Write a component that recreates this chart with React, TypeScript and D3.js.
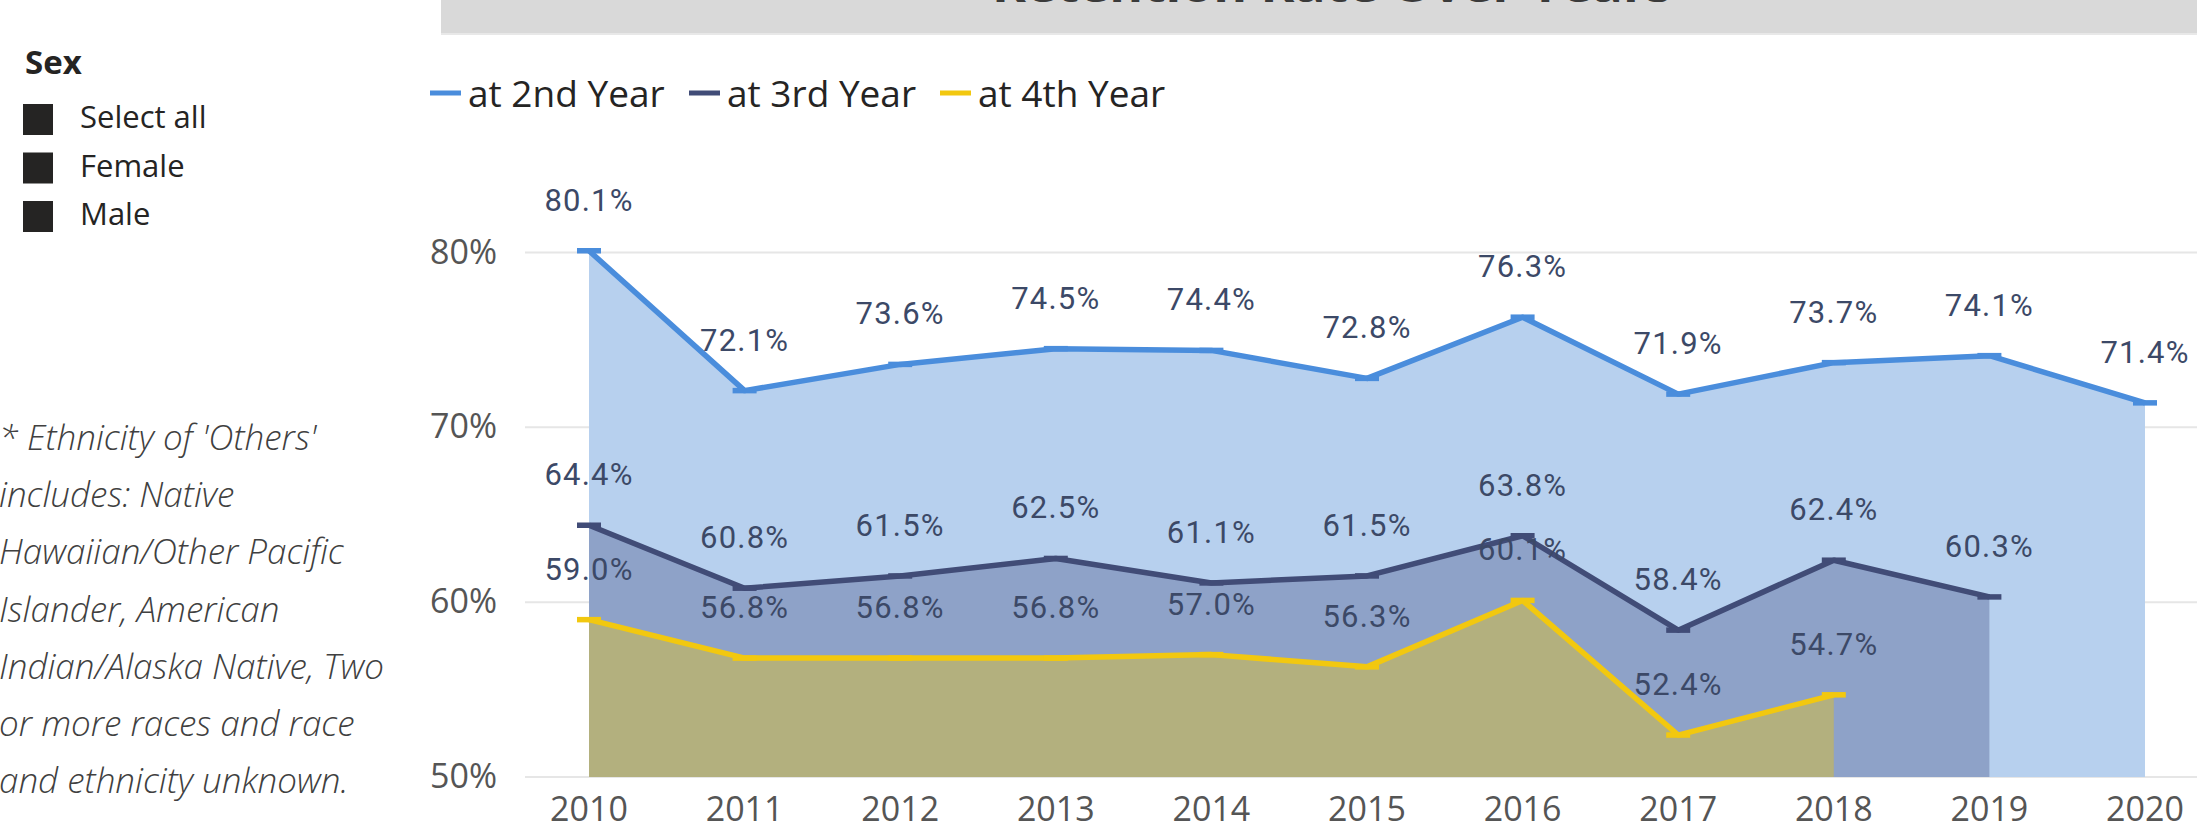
import React from "react";
import * as d3 from "d3";

const years = ["2010", "2011", "2012", "2013", "2014", "2015", "2016", "2017", "2018", "2019", "2020"];
const at2ndYear = [80.1, 72.1, 73.6, 74.5, 74.4, 72.8, 76.3, 71.9, 73.7, 74.1, 71.4];
const at3rdYear = [64.4, 60.8, 61.5, 62.5, 61.1, 61.5, 63.8, 58.4, 62.4, 60.3];
const at4thYear = [59.0, 56.8, 56.8, 56.8, 57.0, 56.3, 60.1, 52.4, 54.7];
const yTicks = [50, 60, 70, 80];
const seriesNames = ["at 2nd Year", "at 3rd Year", "at 4th Year"];
const slicerTitle = "Sex";
const slicerItems = ["Select all", "Female", "Male"];
const chartTitle = "Retention Rate Over Years";
const footnoteLines = [
  "* Ethnicity of 'Others'",
  "includes: Native",
  "Hawaiian/Other Pacific",
  "Islander, American",
  "Indian/Alaska Native, Two",
  "or more races and race",
  "and ethnicity unknown.",
];

const W = 2197;
const H = 829;

const lineColors = ["#4A8DDC", "#414C77", "#F2C80F"];
const areaColors = ["#B7D0EE", "#8EA2C8", "#B3B07E"];

export default function App() {
  const x = d3.scalePoint<string>().domain(years).range([589, 2145]);
  const y = d3.scaleLinear().domain([50, 80]).range([777, 252.5]);

  const seriesData = [at2ndYear, at3rdYear, at4thYear].map((vals) =>
    vals.map((v, i) => ({ year: years[i], v }))
  );

  const area = d3
    .area<{ year: string; v: number }>()
    .x((d) => x(d.year)!)
    .y0(y(50))
    .y1((d) => y(d.v));
  const line = d3
    .line<{ year: string; v: number }>()
    .x((d) => x(d.year)!)
    .y((d) => y(d.v));

  const labelFont = "Roboto, 'DejaVu Sans', sans-serif";
  const uiFont = "'Open Sans', 'Noto Sans', sans-serif";

  const legendX = [430, 689, 940];

  return (
    <svg
      width={W}
      height={H}
      style={{ position: "absolute", left: 0, top: 0, display: "block", background: "#fff" }}
    >
      {/* title bar */}
      <rect x={441} y={0} width={W - 441} height={34} fill="#D9D9D9" />
      <rect x={441} y={33} width={W - 441} height={2} fill="#E8E8E8" />
      <text
        x={1332}
        y={2}
        textAnchor="middle"
        fontFamily={uiFont}
        fontWeight={700}
        fontSize={44}
        fill="#3A3A3A"
        textLength={680}
        lengthAdjust="spacingAndGlyphs"
      >
        {chartTitle}
      </text>

      {/* slicer */}
      <text x={25} y={74} fontFamily={uiFont} fontWeight={700} fontSize={33} fill="#252423">
        {slicerTitle}
      </text>
      {slicerItems.map((s, i) => (
        <g key={s}>
          <rect x={23} y={104 + i * 48.5} width={30} height={31} fill="#252423" />
          <text x={80} y={128 + i * 48.5} fontFamily={uiFont} fontSize={31} fill="#252423">
            {s}
          </text>
        </g>
      ))}

      {/* footnote */}
      {footnoteLines.map((l, i) => (
        <text
          key={i}
          x={-1}
          y={450 + i * 57.2}
          fontFamily={uiFont}
          fontStyle="italic"
          fontWeight={300}
          fontSize={35}
          fill="#404040"
        >
          {l}
        </text>
      ))}

      {/* legend */}
      {seriesNames.map((n, i) => (
        <g key={n}>
          <rect x={legendX[i]} y={90.5} width={31} height={5} fill={lineColors[i]} />
          <text x={legendX[i] + 38} y={107} fontFamily={uiFont} fontSize={37} fill="#252423">
            {n}
          </text>
        </g>
      ))}

      {/* gridlines */}
      {yTicks.map((t) => (
        <line key={t} x1={525} x2={W} y1={y(t)} y2={y(t)} stroke="#E6E6E6" strokeWidth={2} />
      ))}
      {yTicks.map((t) => (
        <text
          key={"l" + t}
          x={497}
          y={y(t) + 11}
          textAnchor="end"
          fontFamily={uiFont}
          fontSize={34}
          fill="#555555"
        >
          {t + "%"}
        </text>
      ))}

      {/* areas */}
      {seriesData.map((d, i) => (
        <path key={"a" + i} d={area(d)!} fill={areaColors[i]} />
      ))}
      {/* lines */}
      {seriesData.map((d, i) => (
        <path
          key={"ln" + i}
          d={line(d)!}
          fill="none"
          stroke={lineColors[i]}
          strokeWidth={5.5}
          strokeLinejoin="round"
        />
      ))}
      {/* point ticks */}
      {seriesData.map((d, i) =>
        d.map((p) => (
          <line
            key={"t" + i + p.year}
            x1={x(p.year)! - 12}
            x2={x(p.year)! + 12}
            y1={y(p.v)}
            y2={y(p.v)}
            stroke={lineColors[i]}
            strokeWidth={5.5}
          />
        ))
      )}

      {/* x axis labels */}
      {years.map((yr) => (
        <text
          key={yr}
          x={x(yr)!}
          y={821}
          textAnchor="middle"
          fontFamily={uiFont}
          fontSize={34}
          fill="#555555"
        >
          {yr}
        </text>
      ))}

      {/* data labels */}
      {seriesData.map((d, i) =>
        d.map((p) => (
          <text
            key={"dl" + i + p.year}
            x={x(p.year)!}
            y={y(p.v) - 40}
            textAnchor="middle"
            fontFamily={labelFont}
            fontSize={31}
            letterSpacing={1.2}
            fill="#3C4967"
          >
            {p.v.toFixed(1) + "%"}
          </text>
        ))
      )}
    </svg>
  );
}
